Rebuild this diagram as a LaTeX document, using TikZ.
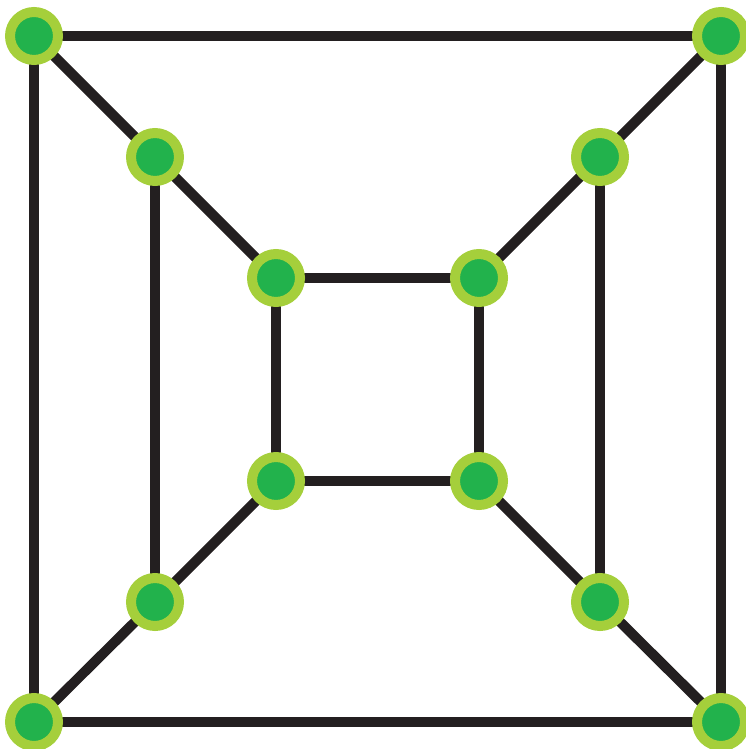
\documentclass[tikz,border=0pt]{standalone}
\definecolor{edgegray}{HTML}{231F20}
\definecolor{ringgreen}{HTML}{A5CF3B}
\definecolor{dotgreen}{HTML}{22B24C}
\tikzset{
  vert/.style={circle,draw=ringgreen,fill=dotgreen,line width=0.2cm,minimum size=0.96cm,inner sep=0pt},
  edge/.style={draw=edgegray,line width=0.2cm}
}
\begin{document}
\begin{tikzpicture}[x=0.02cm,y=-0.02cm]
  \useasboundingbox (0,0) rectangle (745,749);
  % outer ring
  \coordinate (o1) at (34,36);   \coordinate (o2) at (721,36);
  \coordinate (o3) at (721,722); \coordinate (o4) at (34,722);
  % middle ring
  \coordinate (m1) at (155,157); \coordinate (m2) at (600,157);
  \coordinate (m3) at (600,602); \coordinate (m4) at (155,602);
  % inner ring
  \coordinate (i1) at (276,278); \coordinate (i2) at (479,278);
  \coordinate (i3) at (479,481); \coordinate (i4) at (276,481);
  \path[edge] (o1)--(o2)--(o3)--(o4)--cycle;
  \path[edge] (i1)--(i2)--(i3)--(i4)--cycle;
  \path[edge] (m1)--(m4) (m2)--(m3);
  \foreach \k in {1,2,3,4}{\path[edge] (o\k)--(m\k) (m\k)--(i\k);}
  \foreach \p in {o1,o2,o3,o4,m1,m2,m3,m4,i1,i2,i3,i4}{\node[vert] (n\p) at (\p) {};}
\end{tikzpicture}
\end{document}
